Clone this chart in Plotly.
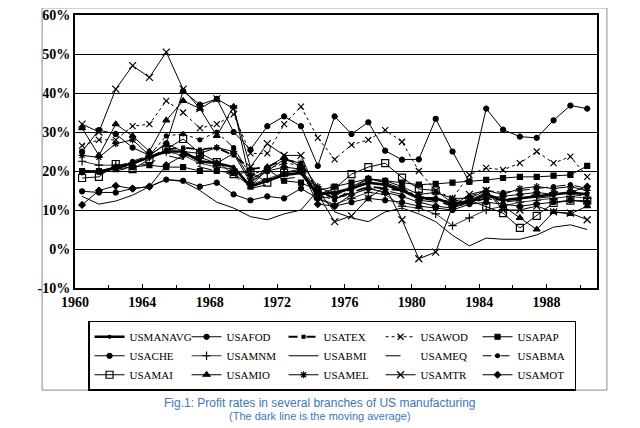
import plotly.graph_objects as go

years = list(range(1960, 1991))
xpos = [y + 0.42 for y in years]  # points sit a bit right of the year tick

usmanavg = [20, 19.8, 20.8, 22, 23.5, 25, 25, 22.5, 22, 21, 16, 17.5, 19, 19.5, 14, 14.5, 15.5, 17, 16.5, 15,
            13, 13, 11.5, 12, 14, 12.5, 13, 13.5, 14, 14.5, 14]
usafod = [14.8, 14.5, 14.5, 15.5, 16, 17.8, 17.5, 16, 17, 14, 12.5, 13.5, 13, 15.5, 13, 11, 12, 13, 12.5, 12,
          11, 10.5, 10, 11.5, 12, 11.5, 11, 11.5, 12, 12.5, 12]
usatex = [20, 19.5, 20.5, 22, 23.5, 25.5, 26, 25.5, 26, 24, 20.5, 21, 23, 22, 15, 13, 14.5, 16, 15.5, 15,
          13, 12.5, 11, 12, 13, 12.5, 13, 14, 14.5, 15, 14]
usawod = [26.5, 28, 28, 31.5, 32, 38, 35, 31, 32, 34.5, 24.5, 24.5, 32, 36.5, 28.5, 23, 26.7, 28, 30.5, 27.5,
          20, 15, 13, 19, 20.8, 20.3, 22, 25, 22, 23.7, 18.5]
usapap = [20, 20, 20.5, 21, 21.5, 21, 21, 20, 20, 19.5, 16, 20.5, 17.5, 17, 15, 16, 17, 18, 17.5, 17,
          16.5, 16.7, 17, 17.3, 17.7, 18.2, 18.5, 18.5, 18.8, 19, 21.3]
usache = [25, 30.5, 29.5, 26, 24, 27, 40.5, 37, 38.5, 30, 25.5, 31.5, 34, 31.5, 21.3, 34, 29.5, 32.5, 25.2, 22.9,
          23, 33.4, 25, 17.2, 36, 30.6, 28.8, 28.5, 33, 36.8, 36]
usamnm = [22.5, 21.5, 21.5, 22, 23.5, 25, 24, 22, 21, 20.5, 16.5, 18, 19.5, 20, 13, 11.5, 13, 14.5, 14, 11,
          10.5, 9, 6, 8, 10, 11, 12, 12.5, 13, 13.5, 13]
usabmi = [13.5, 11.5, 12.3, 13.8, 16, 17.8, 17.3, 15, 12, 10.5, 8.3, 7.5, 9, 10, 15, 9.5, 8, 7, 9.5, 10.5,
          9, 7, 3.5, 0.8, 2.8, 2.5, 2.5, 3.6, 5.6, 6.2, 5]
usameq = [20, 19.5, 20, 21, 22, 24, 23, 21, 20, 19, 15.5, 16.5, 18, 18.5, 14, 13, 14, 15.5, 15, 14,
          12.5, 12, 11, 11.5, 13, 12, 12.5, 13, 13.5, 14, 13.5]
usabma = [19.5, 20, 21, 22.5, 24, 29, 29.5, 28, 30, 26, 19, 20.5, 22, 21.5, 14, 12.5, 15.5, 17, 16.5, 15.5,
          13.5, 13, 12, 13.5, 15, 14.5, 15, 15.5, 16, 16.5, 15.5]
usamai = [18.2, 18.5, 21.8, 20.5, 23, 25.5, 28.2, 24.6, 22.3, 19.2, 19.8, 17, 19.6, 20.5, 14, 15.5, 19.2, 21, 22, 18.3,
          15.4, 15, 11.8, 12.5, 10.8, 9.2, 5.4, 8.5, 11.8, 12.4, 12.4]
usamio = [31, 24, 32, 29, 25, 33, 38, 36, 29, 36.5, 17, 21, 23.5, 21, 13, 13.5, 16, 18, 17, 15.5,
          13, 13, 11.5, 12.5, 14.5, 11, 8, 5, 9.5, 9, 11]
usamel = [24, 23.5, 27, 28, 24, 27, 25, 24.5, 26, 25, 18, 20, 23, 22, 16, 14, 15.5, 18, 17.5, 16,
          14, 14.5, 13, 13, 15, 14, 15.5, 16, 15.5, 16, 15]
usamtr = [32, 30, 41, 47, 44, 50.5, 41, 36, 38.5, 36, 21, 27, 24, 24, 14, 7, 8.5, 13, 16, 7.5,
          -2.5, -0.8, 11, 14, 15, 10, 10, 11, 9.5, 9.2, 7.5]
usamot = [11.3, 15, 16.2, 15.5, 16, 21.5, 24, 23.5, 22, 24.5, 17, 20, 21, 20.5, 11.5, 11, 14, 15.5, 14.5, 13.5,
          12, 11, 10.5, 12, 13, 13.5, 14, 14.5, 14, 14.5, 16]

# name, values, dash, line width, marker symbol, marker size
series = [
    ("USMANAVG", usmanavg, "solid", 2.6, "circle", 3),
    ("USAFOD", usafod, "solid", 1, "circle", 5),
    ("USATEX", usatex, "dash", 1.8, "square", 3),
    ("USAWOD", usawod, "dot", 1, "x-thin", 6),
    ("USAPAP", usapap, "solid", 1, "square", 5),
    ("USACHE", usache, "solid", 1, "circle", 5),
    ("USAMNM", usamnm, "solid", 0.8, "cross-thin", 6),
    ("USABMI", usabmi, "solid", 1, None, 0),
    ("USAMEQ", usameq, "longdash", 1, None, 0),
    ("USABMA", usabma, "dashdot", 1, "circle", 4),
    ("USAMAI", usamai, "solid", 1, "square-open", 7),
    ("USAMIO", usamio, "solid", 1, "triangle-up", 6),
    ("USAMEL", usamel, "solid", 1, "asterisk-open", 6),
    ("USAMTR", usamtr, "solid", 1, "x-thin-open", 7),
    ("USAMOT", usamot, "solid", 1, "diamond", 5),
]

fig = go.Figure()
for name, vals, dash, lw, sym, ms in series:
    mode = "lines+markers" if sym else "lines"
    fig.add_trace(go.Scatter(
        x=xpos, y=vals, name=name, mode=mode,
        line=dict(color="black", width=lw, dash=dash),
        marker=dict(symbol=sym or "circle", size=ms, color="black",
                    line=dict(color="black", width=1.2)),
    ))

serif = "Times New Roman, Liberation Serif, DejaVu Serif, serif"
yt = list(range(-10, 61, 10))

fig.update_xaxes(
    range=[1960, 1991], tickvals=list(range(1960, 1989, 4)),
    ticks="inside", ticklen=4, tickcolor="black",
    minor=dict(dtick=2, ticks="inside", ticklen=3, tickcolor="black"),
    showgrid=False, zeroline=False,
    showline=True, linecolor="black", linewidth=2, mirror=True,
    tickfont=dict(family=serif, size=14, color="black", weight="bold"),
)
fig.update_yaxes(
    range=[-10, 60], tickvals=yt, ticktext=[f"{v}%" for v in yt],
    ticklabeloverflow="allow",
    showgrid=True, gridcolor="black", gridwidth=1.2,
    zeroline=True, zerolinecolor="black", zerolinewidth=1.2,
    showline=True, linecolor="black", linewidth=2, mirror=True,
    ticks="", tickfont=dict(family=serif, size=14, color="black", weight="bold"),
)

# outer frame around chart + legend
fig.add_shape(type="rect", xref="paper", yref="paper",
              x0=-0.063, x1=1.019, y0=-0.374, y1=1.026,
              line=dict(color="#8a8a8a", width=1))

fig.add_annotation(text="Fig.1: Profit rates in several branches of US manufacturing",
                   xref="paper", yref="paper", x=0.469, y=-0.421, yanchor="middle", showarrow=False,
                   font=dict(family="Arial, Liberation Sans, sans-serif", size=12, color="#3a76c0"))
fig.add_annotation(text="(The dark line is the moving average)",
                   xref="paper", yref="paper", x=0.469, y=-0.468, yanchor="middle", showarrow=False,
                   font=dict(family="Arial, Liberation Sans, sans-serif", size=11, color="#3a76c0"))

fig.update_layout(
    width=640, height=428,
    margin=dict(l=67, r=51, t=7, b=148, autoexpand=False),
    paper_bgcolor="white", plot_bgcolor="white",
    legend=dict(orientation="h", x=0.025, y=-0.12, xanchor="left", yanchor="top",
                entrywidth=52, entrywidthmode="pixels", tracegroupgap=0,
                bordercolor="black", borderwidth=1.5, itemwidth=30,
                font=dict(family=serif, size=11, color="black", weight="normal")),
)

fig.write_html("out.html")
